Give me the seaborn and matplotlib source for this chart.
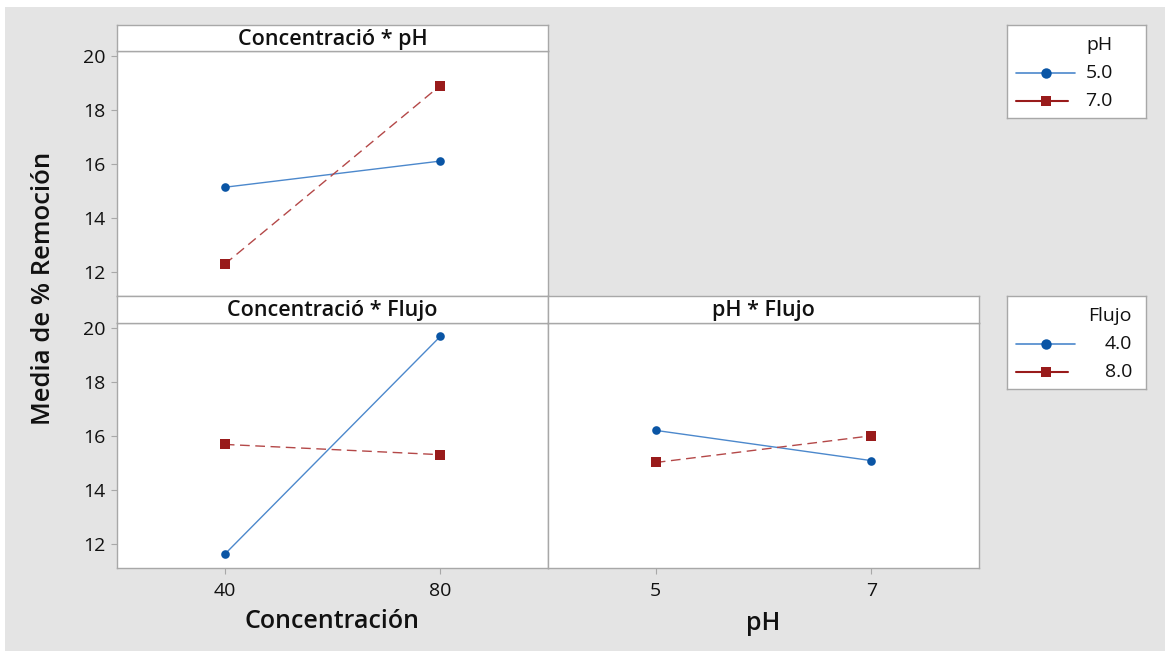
import matplotlib
matplotlib.use("Agg")
import matplotlib.pyplot as plt
from matplotlib.patches import Rectangle
import seaborn as sns
import pandas as pd

sns.set_theme(style="white")
plt.rcParams['font.family'] = ['Open Sans', 'Noto Sans', 'DejaVu Sans']

# ---- data ----
conc_levels = [40, 80]
ph_levels = [5, 7]
ph_groups = ["5.0", "7.0"]
flujo_groups = ["4.0", "8.0"]

conc_ph_ph5 = [15.15, 16.12]
conc_ph_ph7 = [12.30, 18.92]
conc_flujo_f4 = [11.63, 19.70]
conc_flujo_f8 = [15.70, 15.32]
ph_flujo_f4 = [16.22, 15.10]
ph_flujo_f8 = [15.03, 16.02]

y_ticks = [12, 14, 16, 18, 20]

BLUE_D, BLUE_L = "#0a55a5", "#4c88cc"
RED_D, RED_L = "#991b1b", "#b44848"

W, H = 1165, 651
fig = plt.figure(figsize=(W / 100, H / 100), dpi=100, facecolor="white")
fig.patches.append(Rectangle((5 / W, 0), 1 - 5 / W, 1 - 7 / H, transform=fig.transFigure,
                             facecolor="#e4e4e4", edgecolor="none", zorder=-10))

def box(x0, y0, x1, y1):
    return [x0 / W, 1 - y1 / H, (x1 - x0) / W, (y1 - y0) / H]

EDGE = "#a8a8a8"
TXT = "#111111"

def make_df(xs, a, b, groups, name):
    return pd.DataFrame({"x": xs * 2, "y": a + b,
                         name: [groups[0]] * len(xs) + [groups[1]] * len(xs)})

def frame_axes(rect):
    a = fig.add_axes(rect)
    a.set_facecolor("white")
    a.set_xticks([]); a.set_yticks([])
    for s in a.spines.values():
        s.set_color(EDGE); s.set_linewidth(1.0)
    return a

def panel(rect, strip_rect, title, df, hue, xlim, xt, show_y, show_x):
    ax = fig.add_axes(rect)
    sns.lineplot(data=df, x="x", y="y", hue=hue, style=hue, ax=ax,
                 palette=[BLUE_D, RED_D], markers=["o", "s"],
                 dashes=[(None, None), (7, 4)], markersize=6.2, markeredgewidth=0,
                 linewidth=1.0, legend=False)
    for ln in ax.lines:
        c = matplotlib.colors.to_hex(ln.get_color())
        if c.lower() == BLUE_D:
            ln.set_color(BLUE_L); ln.set_markerfacecolor(BLUE_D)
        else:
            ln.set_color(RED_L); ln.set_markerfacecolor(RED_D); ln.set_marker("s")
            ln.set_markersize(6.8)
    ax.set_xlim(*xlim)
    ax.set_ylim(11.12, 20.2)
    ax.set_xticks(xt)
    ax.set_yticks(y_ticks)
    ax.set_xlabel(""); ax.set_ylabel("")
    ax.set_facecolor("white")
    for s in ax.spines.values():
        s.set_color(EDGE); s.set_linewidth(1.0)
    ax.tick_params(axis="both", which="both", length=4, color=EDGE, width=0.8,
                   labelsize=14, pad=4, labelcolor=TXT)
    ax.tick_params(axis="y", left=show_y, labelleft=show_y)
    ax.tick_params(axis="x", bottom=show_x, labelbottom=show_x, pad=6)
    sax = frame_axes(strip_rect)
    sax.text(0.5, 0.45, title, ha="center", va="center", fontsize=15.5,
             fontweight="semibold", transform=sax.transAxes, color=TXT)
    return ax

panel(box(117, 51, 548, 296), box(117, 25, 548, 51), "Concentració * pH",
      make_df(conc_levels, conc_ph_ph5, conc_ph_ph7, ph_groups, "pH"), "pH",
      (20, 100), conc_levels, True, False)
panel(box(117, 323, 548, 568), box(117, 296, 548, 323), "Concentració * Flujo",
      make_df(conc_levels, conc_flujo_f4, conc_flujo_f8, flujo_groups, "Flujo"), "Flujo",
      (20, 100), conc_levels, True, True)
panel(box(548, 323, 979, 568), box(548, 296, 979, 323), "pH * Flujo",
      make_df(ph_levels, ph_flujo_f4, ph_flujo_f8, flujo_groups, "Flujo"), "Flujo",
      (4, 8), ph_levels, False, True)

# axis labels
fig.text(44 / W, 1 - 288 / H, "Media de % Remoción", rotation=90, ha="center", va="center",
         fontsize=18.5, fontweight="semibold", color=TXT)
fig.text(332 / W, 1 - 621 / H, "Concentración", ha="center", va="center",
         fontsize=18, fontweight="semibold", color=TXT)
fig.text(763 / W, 1 - 623 / H, "pH", ha="center", va="center",
         fontsize=18, fontweight="semibold", color=TXT)

def legend(title, labels, top, text_right):
    # legend box drawn in its own small axes (pixel-like coordinates inside the box)
    lax = frame_axes(box(1007, top, 1146, top + 93))
    lax.set_xlim(0, 139)
    lax.set_ylim(93, 0)
    rows = [48, 76]
    lax.plot([9, 68], [rows[0]] * 2, color=BLUE_L, lw=1.2)
    lax.plot([39], [rows[0]], marker="o", ms=7.5, mfc=BLUE_D, mew=0, ls="none")
    lax.plot([9, 61], [rows[1]] * 2, color=RED_D, lw=1.5)
    lax.plot([39], [rows[1]], marker="s", ms=7.5, mfc=RED_D, mew=0, ls="none")
    lax.text(text_right, 20, title, ha="right", va="center", fontsize=14, color=TXT)
    for r, lab in zip(rows, labels):
        lax.text(text_right, r, lab, ha="right", va="center", fontsize=14, color=TXT)

legend("pH", ph_groups, 25, 106)
legend("Flujo", flujo_groups, 296, 125)

fig.savefig("out.png", dpi=100, facecolor=fig.get_facecolor())
